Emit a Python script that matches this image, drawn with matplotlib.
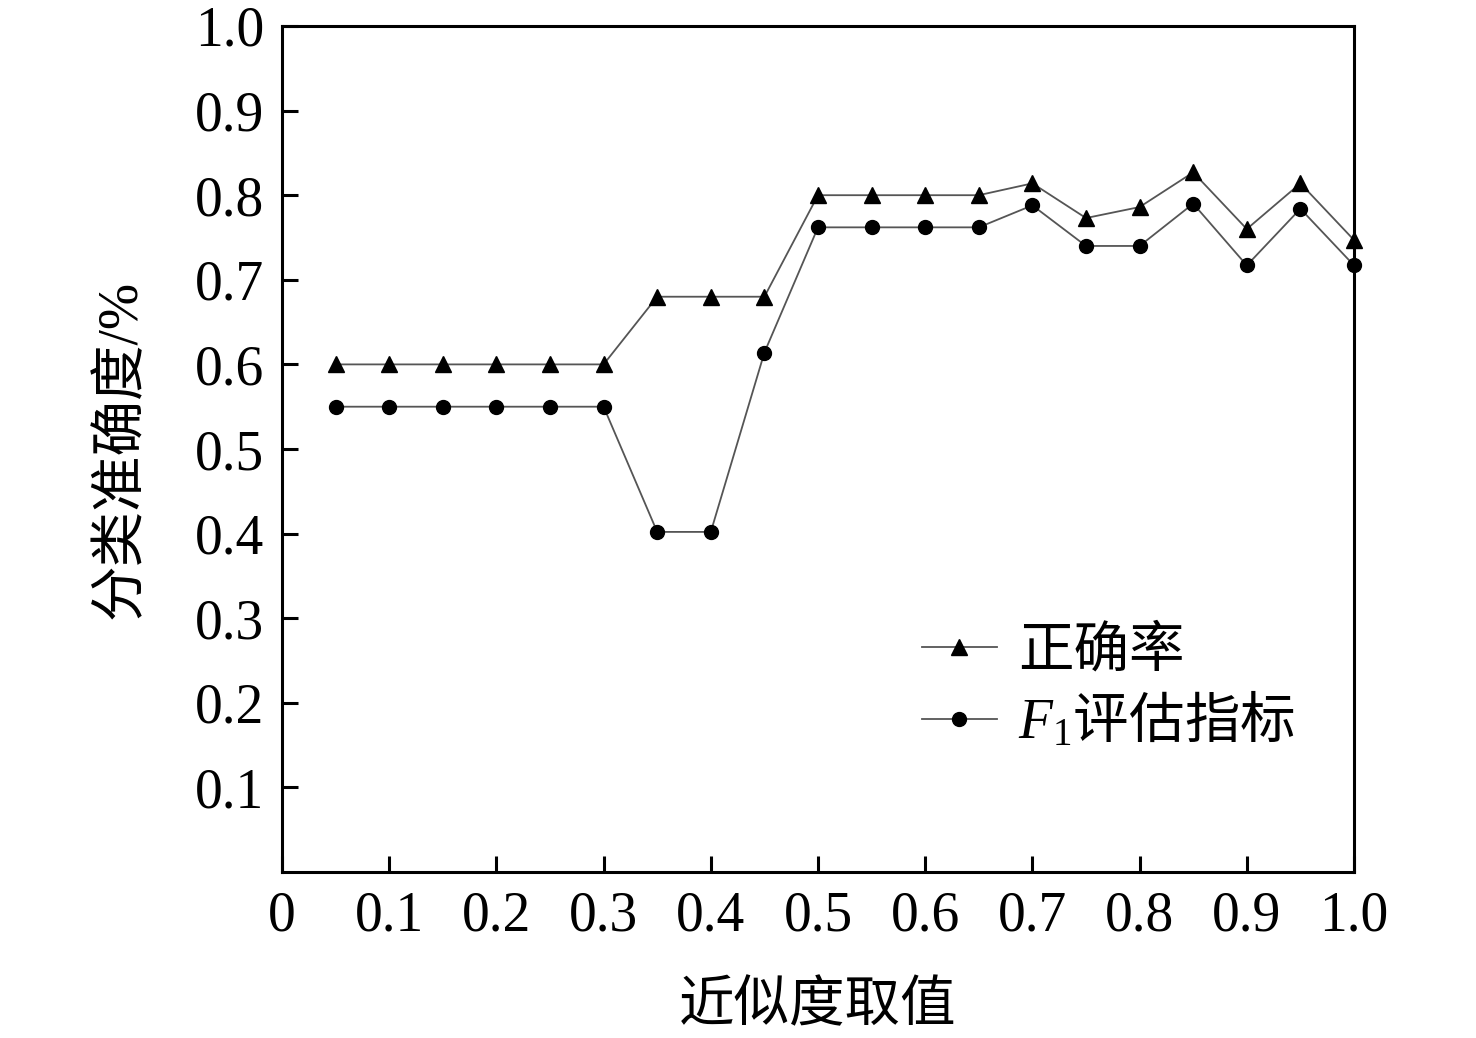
import matplotlib
matplotlib.use("Agg")
import matplotlib.pyplot as plt
import numpy as np

plt.rcParams['font.family'] = ['Liberation Serif', 'Noto Sans CJK SC', 'DejaVu Sans']
plt.rcParams['mathtext.fontset'] = 'custom'
plt.rcParams['mathtext.rm'] = 'Liberation Serif'
plt.rcParams['mathtext.it'] = 'Liberation Serif:italic'

x_vals = [0.05, 0.10, 0.15, 0.20, 0.25, 0.30, 0.35, 0.40, 0.45, 0.50,
          0.55, 0.60, 0.65, 0.70, 0.75, 0.80, 0.85, 0.90, 0.95, 1.00]
accuracy = [0.60, 0.60, 0.60, 0.60, 0.60, 0.60, 0.68, 0.68, 0.68, 0.80,
            0.80, 0.80, 0.80, 0.814, 0.773, 0.786, 0.827, 0.760, 0.814, 0.747]
f1_score = [0.55, 0.55, 0.55, 0.55, 0.55, 0.55, 0.402, 0.402, 0.614, 0.762,
            0.762, 0.762, 0.762, 0.788, 0.740, 0.740, 0.790, 0.717, 0.784, 0.717]
series_labels = ['正确率', '$F_1$评估指标']
x_ticks = [0, 0.1, 0.2, 0.3, 0.4, 0.5, 0.6, 0.7, 0.8, 0.9, 1.0]
x_tick_labels = ['0', '0.1', '0.2', '0.3', '0.4', '0.5', '0.6', '0.7', '0.8', '0.9', '1.0']
y_ticks = [0.1, 0.2, 0.3, 0.4, 0.5, 0.6, 0.7, 0.8, 0.9, 1.0]
y_tick_labels = ['0.1', '0.2', '0.3', '0.4', '0.5', '0.6', '0.7', '0.8', '0.9', '1.0']
x_label = '近似度取值'
y_label = '分类准确度/%'

fig = plt.figure(figsize=(14.76, 10.38), dpi=100)
ax = fig.add_axes([282/1476, 1-872/1038, (1354-282)/1476, (872-26)/1038])

ax.plot(x_vals, accuracy, color='#555555', lw=1.3, marker='^', ms=11,
        mfc='black', mec='black', label=series_labels[0], clip_on=False, zorder=3)
ax.plot(x_vals, f1_score, color='#555555', lw=1.3, marker='o', ms=10,
        mfc='black', mec='black', label=series_labels[1], clip_on=False, zorder=3)

ax.set_xlim(0, 1.0)
ax.set_ylim(0, 1.0)
ax.set_xticks(x_ticks)
ax.set_xticklabels(x_tick_labels)
ax.set_yticks(y_ticks)
ax.set_yticklabels(y_tick_labels)
ax.tick_params(direction='in', length=11.5, width=2.2, labelsize=40, pad=13)
for s in ax.spines.values():
    s.set_linewidth(2.2)

ax.set_xlabel(x_label, fontsize=40, labelpad=28)
ax.set_ylabel(y_label, fontsize=40, labelpad=34)

leg = ax.legend(loc='center left', bbox_to_anchor=(0.597, 0.219), frameon=False,
                prop={'family': 'Noto Sans CJK SC', 'size': 40},
                handlelength=1.35, handletextpad=0.38, labelspacing=0.22,
                borderaxespad=0, borderpad=0, markerscale=1.0)

fig.savefig('out.png', dpi=100)
